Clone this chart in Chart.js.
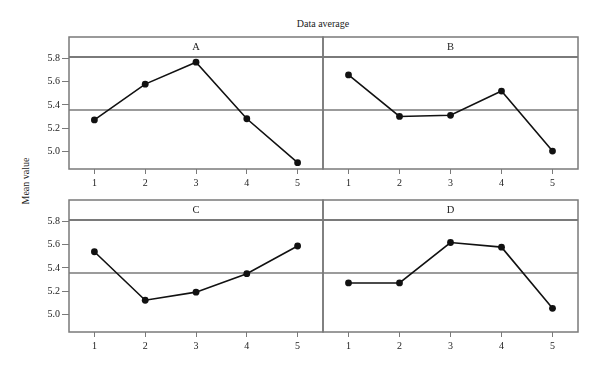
<!DOCTYPE html>
<html>
<head>
<meta charset="utf-8">
<script src="https://cdn.jsdelivr.net/npm/chart.js@4"></script>
<style>
  body { margin: 0; background: #fff; }
  #wrap { position: relative; width: 600px; height: 371px; font-family: "Liberation Serif", serif; color: #222; }
  canvas { position: absolute; }
  .title { position: absolute; left: 0; width: 646px; top: 18px; text-align: center; font-size: 10px; }
  .ylab { position: absolute; left: 25px; top: 181px; font-size: 10px; transform: translate(-50%, -50%) rotate(-90deg); white-space: nowrap; }
</style>
</head>
<body>
<div id="wrap">
  <div class="title">Data average</div>
  <div class="ylab">Mean value</div>
  <canvas id="cA" width="327" height="160" style="left:0;top:35px"></canvas>
  <canvas id="cB" width="281" height="160" style="left:319px;top:35px"></canvas>
  <canvas id="cC" width="327" height="160" style="left:0;top:198px"></canvas>
  <canvas id="cD" width="281" height="160" style="left:319px;top:198px"></canvas>
</div>
<script>
const levels = ['1', '2', '3', '4', '5'];
const factorA = [5.27, 5.58, 5.77, 5.28, 4.90];
const factorB = [5.66, 5.30, 5.31, 5.52, 5.00];
const factorC = [5.54, 5.12, 5.19, 5.35, 5.59];
const factorD = [5.27, 5.27, 5.62, 5.58, 5.05];
const yTicks = [5.0, 5.2, 5.4, 5.6, 5.8];
const grandMean = 5.356;

const frameColor = '#7a7a7a';
const tickFont = { family: '"Liberation Serif", serif', size: 10 };

// frame, strip with panel letter, and the overall mean line
const panelPlugin = {
    id: 'panel',
    beforeDatasetsDraw(chart, args, opts) {
        const { ctx, chartArea: a, scales } = chart;
        const stripH = 20;
        ctx.save();
        ctx.strokeStyle = frameColor;
        ctx.lineWidth = 1.5;
        const my = scales.y.getPixelForValue(grandMean);
        ctx.beginPath();
        ctx.moveTo(a.left, my);
        ctx.lineTo(a.right, my);
        ctx.stroke();
        ctx.lineWidth = 2;
        ctx.beginPath();
        ctx.moveTo(a.left, a.top);
        ctx.lineTo(a.right, a.top);
        ctx.stroke();
        ctx.lineWidth = 1.5;
        ctx.strokeRect(a.left, a.top - stripH, a.right - a.left, a.bottom - a.top + stripH);
        ctx.fillStyle = '#222';
        ctx.font = '10.5px "Liberation Serif", serif';
        ctx.textAlign = 'center';
        ctx.textBaseline = 'middle';
        ctx.fillText(opts.label, (a.left + a.right) / 2, a.top - stripH / 2);
        ctx.restore();
    }
};

function makePanel(canvasId, label, values, showY) {
    const ctx = document.getElementById(canvasId).getContext('2d');
    const yScale = {
        display: showY,
        min: 4.845,
        max: 5.815,
        afterBuildTicks(scale) { scale.ticks = yTicks.map(v => ({ value: v })); },
        grid: { drawOnChartArea: false, color: frameColor, tickLength: 7, lineWidth: 1 },
        border: { display: false },
        ticks: { color: '#222', font: tickFont, padding: 2, callback: v => v.toFixed(1) }
    };
    if (showY) {
        yScale.afterFit = scale => { scale.width = 69; };
    }
    return new Chart(ctx, {
        type: 'line',
        data: {
            labels: levels,
            datasets: [{
                data: values,
                borderColor: '#111',
                borderWidth: 1.6,
                backgroundColor: '#111',
                pointRadius: 3.4,
                pointBorderWidth: 0,
                tension: 0,
                fill: false
            }]
        },
        options: {
            responsive: false,
            animation: false,
            events: [],
            layout: { padding: { top: 22, left: 0, right: showY ? 0 : 22, bottom: 0 } },
            plugins: {
                legend: { display: false },
                tooltip: { enabled: false },
                panel: { label: label }
            },
            scales: {
                x: {
                    type: 'category',
                    offset: true,
                    grid: { offset: false, drawOnChartArea: false, color: frameColor, tickLength: 5, lineWidth: 1 },
                    border: { display: false },
                    ticks: { color: '#222', font: tickFont, padding: 3, maxRotation: 0 },
                    afterFit(scale) { scale.height = 26; }
                },
                y: yScale
            }
        },
        plugins: [panelPlugin]
    });
}

makePanel('cA', 'A', factorA, true);
makePanel('cB', 'B', factorB, false);
makePanel('cC', 'C', factorC, true);
makePanel('cD', 'D', factorD, false);
</script>
</body>
</html>
